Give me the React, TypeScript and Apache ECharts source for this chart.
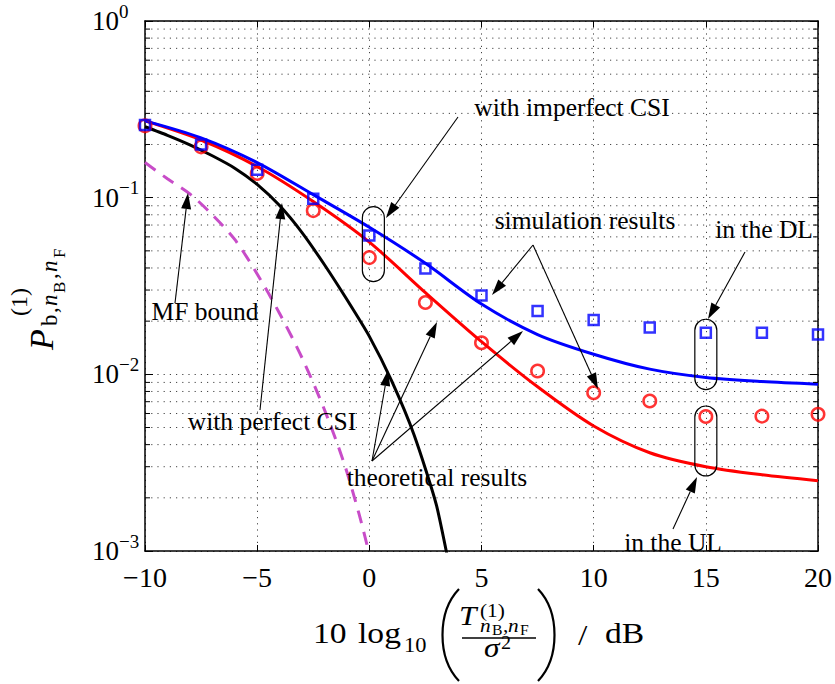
import React, { useEffect, useRef } from 'react';
import * as echarts from 'echarts';

// ---------- data ----------
const snrDb = [-10, -7.5, -5, -2.5, 0, 2.5, 5, 7.5, 10, 12.5, 15, 17.5, 20];
const dlSimulated = [0.258, 0.2, 0.144, 0.0987, 0.061, 0.0397, 0.0279, 0.0228, 0.0203, 0.0184, 0.0172, 0.0172, 0.0168];
const ulSimulated = [0.255, 0.194, 0.137, 0.0845, 0.0458, 0.0255, 0.0151, 0.01044, 0.00787, 0.00706, 0.00577, 0.0058, 0.00594];
const dlTheory = [0.272, 0.218, 0.158, 0.104, 0.068, 0.0425, 0.025, 0.0168, 0.013, 0.0107, 0.0096, 0.0091, 0.0088];
const ulTheory = [0.272, 0.212, 0.15, 0.095, 0.056, 0.029, 0.0153, 0.0085, 0.0051, 0.0036, 0.003, 0.0027, 0.0025];
const perfectCsiDb = [-10, -9, -8, -7, -6, -5, -4, -3, -2, -1, 0, 1, 2, 3, 4];
const perfectCsiBer = [0.252, 0.2254, 0.1991, 0.1726, 0.1469, 0.1189, 0.0902, 0.0634, 0.0417, 0.0265, 0.0164, 0.00914, 0.00452, 0.0018, 0.00043];
const mfBoundDb = [-10, -9, -8, -7, -6, -5, -4, -3, -2, -1, 0, 0.5];
const mfBoundBer = [0.158, 0.128, 0.105, 0.08, 0.058, 0.037, 0.0221, 0.0124, 0.0063, 0.0028, 0.00095, 0.0004];
const yDecades = [-3, -2, -1, 0];

const SERIF = '"Liberation Serif", "Times New Roman", serif';
const pairs = (xs: number[], ys: number[]) => xs.map((x, i) => [x, ys[i]]);

function txt(text: string, x: number, base: number, size: number, o: any = {}) {
  return {
    type: 'text',
    x,
    y: base - 0.34 * size,
    scaleX: o.scaleX ?? 1,
    z: 20,
    style: {
      text,
      fontSize: size,
      fontFamily: SERIF,
      fontStyle: o.italic ? 'italic' : 'normal',
      fill: '#000',
      align: o.align ?? 'left',
      verticalAlign: 'middle',
    },
  };
}

// rotated (bottom-to-top) text: lx = distance up from origin along reading direction, lbase = baseline offset to the right
function rtxt(text: string, ox: number, oy: number, lx: number, lbase: number, size: number, italic = false) {
  return {
    type: 'text',
    x: ox + lbase - 0.34 * size,
    y: oy - lx,
    rotation: Math.PI / 2,
    z: 20,
    style: {
      text,
      fontSize: size,
      fontFamily: SERIF,
      fontStyle: italic ? 'italic' : 'normal',
      fill: '#000',
      align: 'left',
      verticalAlign: 'middle',
    },
  };
}

function arrow(x1: number, y1: number, x2: number, y2: number) {
  const L = 16, W = 5;
  const dx = x2 - x1, dy = y2 - y1;
  const len = Math.hypot(dx, dy);
  const ux = dx / len, uy = dy / len;
  const bx = x2 - ux * L, by = y2 - uy * L;
  return [
    { type: 'line', z: 20, shape: { x1, y1, x2: bx, y2: by }, style: { stroke: '#000', lineWidth: 1.1 } },
    {
      type: 'polygon', z: 20,
      shape: { points: [[x2, y2], [bx - uy * W, by + ux * W], [bx + uy * W, by - ux * W]] },
      style: { fill: '#000' },
    },
  ];
}

export default function App() {
  const ref = useRef<HTMLDivElement>(null);
  useEffect(() => {
    if (!ref.current) return;
    const chart = echarts.init(ref.current, null, { renderer: 'svg' });
    const axisLineStyle = { color: '#000', width: 1.5 };
    const dotted = { color: '#444', width: 1, type: [1.2, 5] as any };
    const option: any = {
      animation: false,
      backgroundColor: '#fff',
      grid: { left: 145, right: 15, top: 21, bottom: 133 },
      xAxis: [
        {
          type: 'value', min: -10, max: 20, interval: 5, position: 'bottom',
          axisLine: { show: true, onZero: false, lineStyle: axisLineStyle },
          axisTick: { show: true, inside: true, length: 6, lineStyle: { color: '#000', width: 1 } },
          axisLabel: {
            show: true, margin: 12, fontSize: 28, fontFamily: SERIF, color: '#000',
            formatter: (v: number) => (v < 0 ? '\u2212' + Math.abs(v) : String(v)),
          },
          splitLine: { show: true, lineStyle: dotted },
        },
        {
          type: 'value', min: -10, max: 20, interval: 5, position: 'top',
          axisLine: { show: true, onZero: false, lineStyle: axisLineStyle },
          axisTick: { show: true, inside: true, length: 6, lineStyle: { color: '#000', width: 1 } },
          axisLabel: { show: false },
          splitLine: { show: false },
        },
      ],
      yAxis: [
        {
          type: 'log', logBase: 10, min: 0.001, max: 1, position: 'left',
          axisLine: { show: true, onZero: false, lineStyle: axisLineStyle },
          axisTick: { show: true, inside: true, length: 8, lineStyle: { color: '#000', width: 1 } },
          axisLabel: {
            show: true, margin: 53, align: 'left', color: '#000',
            formatter: (v: number) => {
              const e = Math.round(Math.log10(v));
              return '{b|10}{s|' + (e < 0 ? '\u2212' + Math.abs(e) : String(e)) + '}';
            },
            rich: {
              b: { fontSize: 27, fontFamily: SERIF, color: '#000', lineHeight: 27 },
              s: { fontSize: 19, fontFamily: SERIF, color: '#000', lineHeight: 19, padding: [0, 0, 20, 0] },
            },
          },
          splitLine: { show: true, lineStyle: dotted },
        },
        {
          type: 'log', logBase: 10, min: 0.001, max: 1, position: 'right',
          axisLine: { show: true, onZero: false, lineStyle: axisLineStyle },
          axisTick: { show: true, inside: true, length: 8, lineStyle: { color: '#000', width: 1 } },
          axisLabel: { show: false },
          splitLine: { show: false },
        },
      ],
      series: [
        {
          name: 'with perfect CSI', type: 'line', data: pairs(perfectCsiDb, perfectCsiBer),
          smooth: 0.2, showSymbol: false, clip: true,
          lineStyle: { color: '#000', width: 3 }, z: 3,
        },
        {
          name: 'MF bound', type: 'line', data: pairs(mfBoundDb, mfBoundBer),
          smooth: 0.3, showSymbol: false, clip: true,
          lineStyle: { color: '#c84cc8', width: 3, type: [13, 9] }, z: 3,
        },
        {
          name: 'UL theory', type: 'line', data: pairs(snrDb, ulTheory),
          smooth: 0.3, showSymbol: false, clip: true,
          lineStyle: { color: '#ff0000', width: 3 }, z: 3,
        },
        {
          name: 'DL theory', type: 'line', data: pairs(snrDb, dlTheory),
          smooth: 0.3, showSymbol: false, clip: true,
          lineStyle: { color: '#0000ff', width: 3 }, z: 3,
        },
        {
          name: 'UL simulation', type: 'scatter', data: pairs(snrDb, ulSimulated),
          symbol: 'circle', symbolSize: 12.5, clip: false, z: 4,
          itemStyle: { color: 'rgba(0,0,0,0)', borderColor: '#ff0000', borderWidth: 2.5 },
        },
        {
          name: 'DL simulation', type: 'scatter', data: pairs(snrDb, dlSimulated),
          symbol: 'rect', symbolSize: 10, clip: false, z: 4,
          itemStyle: { color: 'rgba(0,0,0,0)', borderColor: '#0000ff', borderWidth: 2.5 },
        },
      ],
    };
    chart.setOption(option);

    const px = (x: number, y: number) => chart.convertToPixel({ xAxisIndex: 0, yAxisIndex: 0 }, [x, y]) as number[];
    const left = px(-10, 1)[0];
    const right = px(20, 1)[0];
    const g: any[] = [];

    // minor log grid lines & ticks
    yDecades.slice(0, 3).forEach((e) => {
      for (let k = 2; k <= 9; k++) {
        const yy = px(0, k * Math.pow(10, e))[1];
        g.push({ type: 'line', z: 1, silent: true, shape: { x1: left, y1: yy, x2: right, y2: yy }, style: { stroke: '#444', lineWidth: 1, lineDash: [1.2, 5] } });
        g.push({ type: 'line', z: 5, shape: { x1: left, y1: yy, x2: left + 5, y2: yy }, style: { stroke: '#000', lineWidth: 1 } });
        g.push({ type: 'line', z: 5, shape: { x1: right - 5, y1: yy, x2: right, y2: yy }, style: { stroke: '#000', lineWidth: 1 } });
      }
    });

    // stadium outlines around marker groups
    const stadium = (xDb: number, vTop: number, vBot: number, w: number) => {
      const [cx, yt] = px(xDb, vTop);
      const yb = px(xDb, vBot)[1];
      return { type: 'rect', z: 15, shape: { x: cx - w / 2, y: yt, width: w, height: yb - yt, r: w / 2 }, style: { fill: 'none', stroke: '#000', lineWidth: 1.2 } };
    };
    g.push(stadium(0.18, 0.0889, 0.0335, 22));
    g.push(stadium(15, 0.0205, 0.0082, 22));
    g.push(stadium(15, 0.00662, 0.00266, 22));

    // annotation arrows
    g.push(...arrow(458, 117, 386, 218));
    g.push(...arrow(533, 245, 492, 295));
    g.push(...arrow(533, 245, 598, 389));
    g.push(...arrow(745, 252, 708, 319));
    g.push(...arrow(673, 529, 697, 477));
    g.push(...arrow(372, 461, 388, 370));
    g.push(...arrow(372, 461, 437, 322));
    g.push(...arrow(372, 461, 523, 331));
    g.push(...arrow(175, 303, 188, 193));
    g.push(...arrow(260, 410, 282, 203));

    // annotation texts
    const F = 25.5;
    g.push(txt('with imperfect CSI', 572, 116, F, { align: 'center' }));
    g.push(txt('simulation results', 585, 229, F, { align: 'center' }));
    g.push(txt('in the DL', 764, 238, F, { align: 'center' }));
    g.push(txt('in the UL', 673, 551, F, { align: 'center' }));
    g.push(txt('theoretical results', 437, 486, F, { align: 'center' }));
    g.push(txt('MF bound', 205, 320, F, { align: 'center' }));
    g.push(txt('with perfect CSI', 272, 430, F, { align: 'center' }));

    // x-axis title: 10 log10 ( T^(1)_{nB,nF} / sigma^2 ) / dB
    const S = 1.12;
    g.push(txt('10', 313, 643, 30, { scaleX: S }));
    g.push(txt('log', 358, 643, 30, { scaleX: S }));
    g.push(txt('10', 404, 652, 20, { scaleX: S }));
    g.push({ type: 'bezierCurve', z: 20, shape: { x1: 459, y1: 589, x2: 459, y2: 681, cpx1: 437, cpy1: 612, cpx2: 437, cpy2: 658 }, style: { stroke: '#000', lineWidth: 2.2, fill: 'none' } });
    g.push({ type: 'bezierCurve', z: 20, shape: { x1: 538, y1: 589, x2: 538, y2: 681, cpx1: 560, cpy1: 612, cpx2: 560, cpy2: 658 }, style: { stroke: '#000', lineWidth: 2.2, fill: 'none' } });
    g.push(txt('T', 459, 625, 28, { italic: true, scaleX: S }));
    g.push(txt('(1)', 480, 617, 19, { scaleX: S }));
    g.push(txt('n', 480, 632, 19, { italic: true, scaleX: S }));
    g.push(txt('B', 492, 635, 14, { scaleX: S }));
    g.push(txt(',', 503, 632, 19, { scaleX: S }));
    g.push(txt('n', 508, 632, 19, { italic: true, scaleX: S }));
    g.push(txt('F', 520, 635, 14, { scaleX: S }));
    g.push({ type: 'line', z: 20, shape: { x1: 462, y1: 638, x2: 536, y2: 638 }, style: { stroke: '#000', lineWidth: 1.5 } });
    g.push(txt('\u03c3', 484, 657, 28, { italic: true, scaleX: S }));
    g.push(txt('2', 501, 649, 18, { scaleX: S }));
    g.push(txt('/', 578, 645, 30, { scaleX: S }));
    g.push(txt('dB', 605, 643, 30, { scaleX: S }));

    // y-axis title: P^(1)_{b,nB,nF} (rotated, reads bottom to top)
    const OX = 53, OY = 350;
    g.push(rtxt('P', OX, OY, 0, 0, 34, true));
    g.push(rtxt('(1)', OX, OY, 34, -26, 24));
    g.push(rtxt('b', OX, OY, 24, 4, 23));
    g.push(rtxt(',', OX, OY, 37, 4, 23));
    g.push(rtxt('n', OX, OY, 44, 4, 23, true));
    g.push(rtxt('B', OX, OY, 57, 12, 17));
    g.push(rtxt(',', OX, OY, 71, 4, 23));
    g.push(rtxt('n', OX, OY, 78, 4, 23, true));
    g.push(rtxt('F', OX, OY, 92, 12, 17));

    chart.setOption({ graphic: g });
    return () => chart.dispose();
  }, []);
  return <div ref={ref} style={{ position: 'absolute', left: 0, top: 0, width: 835, height: 684, background: '#fff' }} />;
}
